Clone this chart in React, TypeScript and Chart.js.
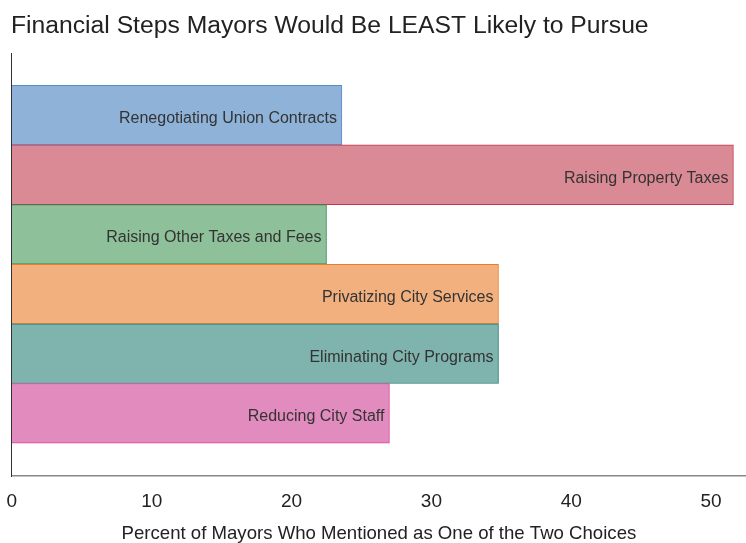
import React, { useEffect, useRef } from "react";
import { Chart, registerables } from "chart.js";

Chart.register(...registerables);

const categories = [
  "Renegotiating Union Contracts",
  "Raising Property Taxes",
  "Raising Other Taxes and Fees",
  "Privatizing City Services",
  "Eliminating City Programs",
  "Reducing City Staff",
];
const values = [23.6, 51.6, 22.5, 34.8, 34.8, 27.0];
const fillColors = ["#8fb2d8", "#d98a94", "#8ec09a", "#f2b07f", "#7fb3ae", "#e28bbf"];
const borderColors = ["#5a8cc6", "#c4374f", "#2e8b4d", "#ea7d2c", "#1f7a72", "#de3c97"];
const xTicks = [0, 10, 20, 30, 40, 50];

const FONT = "'Liberation Sans', Arial, Helvetica, sans-serif";

const labelPlugin = {
  id: "barLabels",
  afterDatasetsDraw(chart: any) {
    const ctx = chart.ctx;
    const meta = chart.getDatasetMeta(0);
    ctx.save();
    ctx.font = `16px ${FONT}`;
    ctx.fillStyle = "#333333";
    ctx.textAlign = "right";
    ctx.textBaseline = "alphabetic";
    meta.data.forEach((el: any, i: number) => {
      ctx.fillText(categories[i], el.x - 5, el.y + 8);
    });
    ctx.restore();
  },
};

export default function App() {
  const ref = useRef<HTMLCanvasElement | null>(null);
  useEffect(() => {
    if (!ref.current) return;
    const chart = new Chart(ref.current, {
      type: "bar",
      data: {
        datasets: [
          {
            data: values.map((v, i) => ({ x: v, y: i })) as any,
            backgroundColor: fillColors,
            borderColor: borderColors,
            borderWidth: 1,
            barPercentage: 1,
            categoryPercentage: 1,
          },
        ],
      },
      options: {
        indexAxis: "y",
        animation: false,
        responsive: true,
        maintainAspectRatio: false,
        layout: { padding: { left: 11, right: 0, top: 0, bottom: 0 } },
        plugins: {
          legend: { display: false },
          tooltip: { enabled: false },
          title: {
            display: true,
            text: "Financial Steps Mayors Would Be LEAST Likely to Pursue",
            align: "start",
            color: "#222222",
            font: { family: FONT, size: 24.7, weight: "normal", lineHeight: 1.2 },
            padding: { top: 11.5, bottom: 11.9 },
          },
        },
        scales: {
          x: {
            type: "linear",
            min: 0,
            max: 52.5,
            grid: { display: false },
            border: { display: true, color: "#888888", width: 1.5 },
            afterBuildTicks: (scale: any) => {
              scale.ticks = xTicks.map((v) => ({ value: v }));
            },
            ticks: {
              color: "#222222",
              padding: 6.6,
              maxRotation: 0,
              font: { family: FONT, size: 19, lineHeight: 1.2 },
            },
            title: {
              display: true,
              text: "Percent of Mayors Who Mentioned as One of the Two Choices",
              color: "#222222",
              font: { family: FONT, size: 18.6, lineHeight: 1 },
              padding: { top: 4.4, bottom: 0 },
            },
          },
          y: {
            type: "linear",
            reverse: true,
            offset: false,
            min: -1.04,
            max: 6.05,
            grid: { display: false, drawTicks: false, tickLength: 0, offset: false },
            border: { display: true, color: "#333333", width: 1 },
            afterBuildTicks: (scale: any) => {
              scale.ticks = categories.map((_, i) => ({ value: i }));
            },
            ticks: { display: false },
          },
        },
      },
      plugins: [labelPlugin],
    } as any);
    return () => chart.destroy();
  }, []);
  return (
    <div style={{ position: "absolute", left: 0, top: 0, width: 746, height: 543 }}>
      <canvas ref={ref} />
    </div>
  );
}
